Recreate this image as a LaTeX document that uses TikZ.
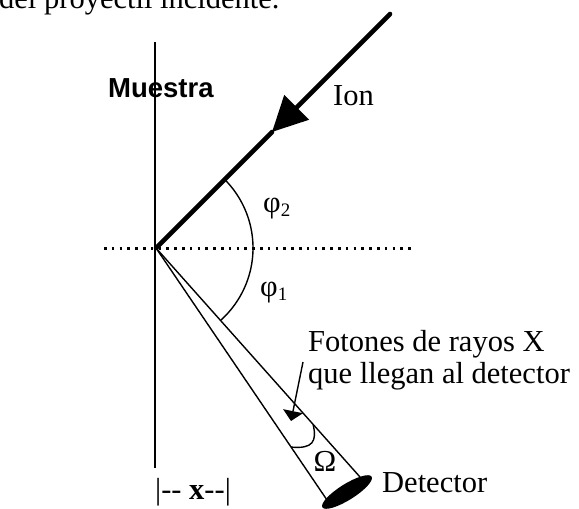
\documentclass[tikz,border=0pt]{standalone}
\usepackage{fontspec}
\setmainfont{Liberation Serif}
\newfontfamily\labelsans{Liberation Sans}
\usetikzlibrary{arrows.meta,calc,shapes.geometric}

\newcommand{\phisub}[1]{φ\raisebox{-0.35ex}{\fontsize{19}{19}\selectfont #1}}

\begin{document}
\begin{tikzpicture}[x=1pt, y=-1pt,
    txt/.style={font=\fontsize{30.5}{32}\selectfont, inner sep=0pt},
    beam/.style={line width=4.6pt, line cap=round},
    ray/.style={line width=1.4pt},
    axisline/.style={line width=1.8pt},
    dotline/.style={line width=3pt, dash pattern=on 2.6pt off 5.2pt},
  ]

  \useasboundingbox (0,0) rectangle (579,509);
  \clip (0,0) rectangle (579,509);

  %% text cut off from the page above
  \node[txt, anchor=base west] (topline) at (-1,8) {del proyectil incidente.};

  %% sample and reference line
  \coordinate (o)     at (156,248);
  \coordinate (muTop) at (155,42);
  \coordinate (muBot) at (155,468);
  \coordinate (horL)  at (104,248);
  \coordinate (horR)  at (413,248);

  \draw[axisline] (muTop) -- (muBot);
  \draw[dotline] (horL) -- (horR);
  \node[font=\labelsans\bfseries\fontsize{27.5}{30}\selectfont, inner sep=0pt,
        anchor=base west] (muestra) at (108,97) {Muestra};

  %% incoming ion
  \coordinate (ionstart) at (390,14);
  \coordinate (iontip)   at (272,132);
  \draw[beam, -{Triangle[length=35pt, width=34pt]}] (ionstart) -- (iontip);
  \draw[beam] (iontip) -- (o);
  \node[txt, anchor=base west] (ion) at (333,105) {Ion};

  %% x-ray cone towards the detector
  \coordinate (rayR) at (360,477);
  \coordinate (rayL) at (327,500);
  \draw[ray] (o) -- (rayR);
  \draw[ray] (o) -- (rayL);
  \node[ellipse, fill=black, minimum width=58pt, minimum height=16pt,
        inner sep=0pt, rotate=32] (det) at (347,492) {};
  \node[txt, anchor=base west] (detector) at (382,492) {Detector};

  %% angles
  \coordinate (phistart) at ($(o)+(68.6,-68.6)$);
  \draw[ray] (phistart) arc[start angle=45, end angle=-48, radius=97pt];
  \node[txt, anchor=base west] (phi2) at (263,212) {\phisub{2}};
  \node[txt, anchor=base west] (phi1) at (260,296) {\phisub{1}};

  \coordinate (omR) at ($(o)!0.77!(rayR)$);
  \coordinate (omL) at ($(o)!0.79!(rayL)$);
  \draw[ray] (omR) .. controls ($(omR)+(4,17)$) and ($(omL)+(22,2)$) .. (omL);
  \node[txt] (omega) at (325,461) {Ω};

  %% photons label
  \node[txt, anchor=north west, align=left] (fotones) at (308,330)
    {Fotones de rayos X\\que llegan al detector};
  \coordinate (ptrstart) at (303,362);
  \coordinate (ptrtip)   at (291,421);
  \draw[ray, -{Triangle[length=10pt, width=20pt]}] (ptrstart) -- (ptrtip);

  %% distance mark
  \node[txt, anchor=base west] (xdist) at (155,499) {|-{}- \textbf{x}-{}-|};

\end{tikzpicture}
\end{document}
